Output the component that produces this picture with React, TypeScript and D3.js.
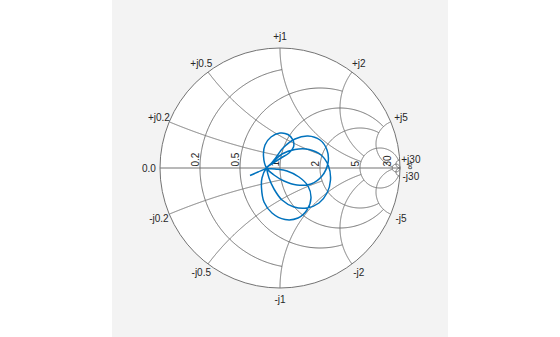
import React from 'react';
import * as d3 from 'd3';

// Smith chart grid: circle values and the value at which each circle is clipped
const gridValues = [0.2, 0.5, 1, 2, 5, 30];
const gridClips = [1, 2, 5, 5, 30, Infinity];
const resistanceLabels = ['0.2', '0.5', '1', '2', '5', '30'];
const reactanceLabels = ['0.2', '0.5', '1', '2', '5', '30'];

const hub: [number, number] = [-0.1125, 0];
const traceTail: [number, number][] = [[-0.25, -0.0625], [-0.1833, -0.0333]];
const loopUpperRight: [number, number][] = [
  [-0.05, 0.0667], [0.025, 0.1667], [0.125, 0.2417], [0.2333, 0.2667], [0.3333, 0.2333],
  [0.3917, 0.15], [0.4, 0.0417], [0.35, -0.0667], [0.2583, -0.1333], [0.1417, -0.1417],
  [0.0333, -0.1083], [-0.05, -0.0583],
];
const loopSmall: [number, number][] = [
  [-0.1375, 0.1], [-0.125, 0.1917], [-0.075, 0.2583], [0, 0.2917], [0.0667, 0.2792],
  [0.1083, 0.2333], [0.1125, 0.175], [0.075, 0.125], [0.0083, 0.0833], [-0.0542, 0.0417],
];
const loopLower: [number, number][] = [
  [-0.15, -0.0833], [-0.1542, -0.1667], [-0.1333, -0.2833], [-0.0667, -0.375], [0.0417, -0.4292],
  [0.15, -0.4167], [0.225, -0.35], [0.2583, -0.25], [0.2333, -0.15], [0.1583, -0.075],
  [0.0583, -0.025], [-0.0417, -0.0083],
];
const loopRight: [number, number][] = [
  [-0.0583, 0.05], [0.0167, 0.1167], [0.125, 0.1542], [0.2417, 0.1542], [0.3417, 0.1083],
  [0.4042, 0.0167], [0.4208, -0.1], [0.3917, -0.2083], [0.325, -0.2917], [0.225, -0.3333],
  [0.1167, -0.325], [0.0167, -0.2667], [-0.05, -0.175], [-0.0917, -0.0833],
];

function gamma(r: number, x: number): [number, number] {
  const a = r - 1, b = x, c = r + 1, d = x;
  const den = c * c + d * d;
  return [(a * c + b * d) / den, (b * c - a * d) / den];
}

function resistancePoints(r: number, X: number): [number, number][] {
  const c = r / (1 + r), rho = 1 / (1 + r);
  let psi0 = 0;
  if (isFinite(X)) {
    const g = gamma(r, X);
    psi0 = Math.atan2(g[1], g[0] - c);
  }
  const pts: [number, number][] = [];
  const n = 300;
  for (let i = 0; i <= n; i++) {
    const psi = psi0 + ((2 * Math.PI - 2 * psi0) * i) / n;
    pts.push([c + rho * Math.cos(psi), rho * Math.sin(psi)]);
  }
  return pts;
}

function reactancePoints(x: number, Rc: number): [number, number][] {
  const cyg = 1 / x, rad = Math.abs(1 / x);
  const s = gamma(0, x);
  const e = isFinite(Rc) ? gamma(Rc, x) : [1, 0];
  const a0 = Math.atan2(s[1] - cyg, s[0] - 1);
  const a1 = Math.atan2(e[1] - cyg, e[0] - 1);
  let d = a1 - a0;
  while (d > Math.PI) d -= 2 * Math.PI;
  while (d < -Math.PI) d += 2 * Math.PI;
  const pts: [number, number][] = [];
  const n = 300;
  for (let i = 0; i <= n; i++) {
    const a = a0 + (d * i) / n;
    pts.push([1 + rad * Math.cos(a), cyg + rad * Math.sin(a)]);
  }
  return pts;
}

export default function App() {
  const W = 560, H = 337;
  const cx = 280, cy = 168, R = 120;
  const xs = d3.scaleLinear().domain([-1, 1]).range([cx - R, cx + R]);
  const ys = d3.scaleLinear().domain([-1, 1]).range([cy + R, cy - R]);
  const line = d3.line<[number, number]>().x((d) => xs(d[0])).y((d) => ys(d[1]));
  const smooth = d3
    .line<[number, number]>()
    .x((d) => xs(d[0]))
    .y((d) => ys(d[1]))
    .curve(d3.curveCatmullRom.alpha(0.5));

  const gridStroke = '#737373';
  const textColor = '#262626';
  const font = "'Liberation Sans', Arial, Helvetica, sans-serif";

  const gridPaths: string[] = [];
  gridValues.forEach((v, i) => {
    gridPaths.push(line(resistancePoints(v, gridClips[i])) as string);
    gridPaths.push(line(reactancePoints(v, gridClips[i])) as string);
    gridPaths.push(line(reactancePoints(-v, gridClips[i])) as string);
  });

  const trace: [number, number][] = [
    ...traceTail, hub,
    ...loopUpperRight, hub,
    ...loopSmall, hub,
    ...loopLower, hub,
    ...loopRight, hub,
  ];

  const labelR = 1.093;

  return (
    <svg
      width={W}
      height={H}
      style={{ position: 'absolute', left: 0, top: 0, display: 'block' }}
      fontFamily={font}
    >
      <rect x={0} y={0} width={W} height={H} fill="#ffffff" />
      <rect x={112} y={0} width={336} height={H} fill="#f3f3f3" />
      <circle cx={cx} cy={cy} r={R} fill="#ffffff" />
      {gridPaths.map((p, i) => (
        <path key={i} d={p} fill="none" stroke={gridStroke} strokeWidth={1} />
      ))}
      <line x1={xs(-1)} y1={ys(0)} x2={xs(1)} y2={ys(0)} stroke={gridStroke} strokeWidth={1} />
      <circle cx={cx} cy={cy} r={R} fill="none" stroke={gridStroke} strokeWidth={1} />

      {/* resistance labels */}
      {gridValues.map((v, i) => {
        const gx = xs(gamma(v, 0)[0]) - 1.5;
        const gy = ys(0) - 1.5;
        return (
          <text
            key={'r' + i}
            x={gx}
            y={gy}
            transform={`rotate(-90 ${gx} ${gy})`}
            fontSize={10}
            fill={textColor}
            textAnchor="start"
          >
            {resistanceLabels[i]}
          </text>
        );
      })}
      <text
        x={409}
        y={166}
        transform={`rotate(-90 409 166)`}
        fontSize={10}
        fill={textColor}
        textAnchor="middle"
        dominantBaseline="central"
      >
        ∞
      </text>
      <text
        x={xs(-labelR)}
        y={ys(0)}
        fontSize={10}
        fill={textColor}
        textAnchor="middle"
        dominantBaseline="central"
      >
        0.0
      </text>

      {/* reactance labels */}
      {gridValues.map((v, i) =>
        [1, -1].map((s) => {
          const g = gamma(0, s * v);
          return (
            <text
              key={'x' + i + s}
              x={xs(g[0] * labelR)}
              y={ys(g[1] * labelR)}
              fontSize={10}
              fill={textColor}
              textAnchor="middle"
              dominantBaseline="central"
            >
              {(s > 0 ? '+j' : '-j') + reactanceLabels[i]}
            </text>
          );
        })
      )}

      <path d={smooth(trace) as string} fill="none" stroke="#0072BD" strokeWidth={1.5} />
    </svg>
  );
}
